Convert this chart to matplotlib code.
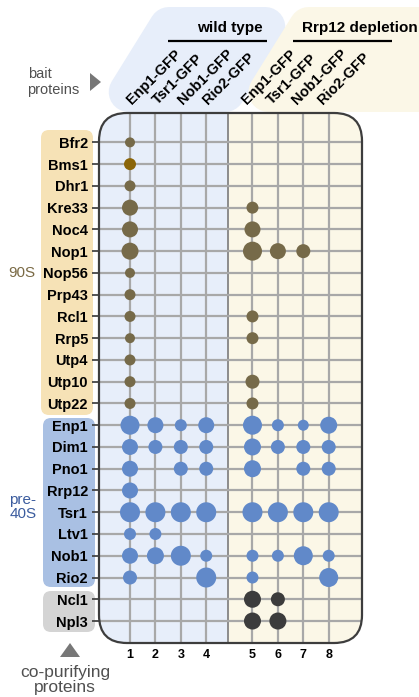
import matplotlib.pyplot as plt
import numpy as np
from matplotlib.patches import FancyBboxPatch, Polygon, Rectangle

plt.rcParams['font.family'] = ['Liberation Sans', 'DejaVu Sans']

# co-purifying proteins (rows) and their complex
proteins = ['Bfr2', 'Bms1', 'Dhr1', 'Kre33', 'Noc4', 'Nop1', 'Nop56', 'Prp43',
            'Rcl1', 'Rrp5', 'Utp4', 'Utp10', 'Utp22',
            'Enp1', 'Dim1', 'Pno1', 'Rrp12', 'Tsr1', 'Ltv1', 'Nob1', 'Rio2',
            'Ncl1', 'Npl3']
groups = ['90S'] * 13 + ['pre-40S'] * 8 + ['other'] * 2
highlight = 'Bms1'

# bait proteins (columns), two conditions
baits = ['Enp1-GFP', 'Tsr1-GFP', 'Nob1-GFP', 'Rio2-GFP']
conditions = ['wild type', 'Rrp12 depletion']
lanes = [1, 2, 3, 4, 5, 6, 7, 8]

# dot diameter (px) per protein and lane, 0 = not detected
dot_size = np.array([
    [10, 0, 0, 0, 0, 0, 0, 0],
    [12, 0, 0, 0, 0, 0, 0, 0],
    [11, 0, 0, 0, 0, 0, 0, 0],
    [16, 0, 0, 0, 12, 0, 0, 0],
    [16, 0, 0, 0, 16, 0, 0, 0],
    [17, 0, 0, 0, 19, 16, 14, 0],
    [10, 0, 0, 0, 0, 0, 0, 0],
    [11, 0, 0, 0, 0, 0, 0, 0],
    [11, 0, 0, 0, 12, 0, 0, 0],
    [10, 0, 0, 0, 12, 0, 0, 0],
    [11, 0, 0, 0, 0, 0, 0, 0],
    [11, 0, 0, 0, 14, 0, 0, 0],
    [11, 0, 0, 0, 12, 0, 0, 0],
    [19, 16, 12, 16, 19, 12, 11, 17],
    [16, 14, 14, 14, 17, 14, 14, 14],
    [16, 0, 14, 14, 17, 0, 14, 14],
    [16, 0, 0, 0, 0, 0, 0, 0],
    [20, 20, 20, 20, 20, 20, 20, 20],
    [12, 12, 0, 0, 0, 0, 0, 0],
    [16, 17, 20, 12, 12, 12, 19, 12],
    [14, 0, 0, 20, 12, 0, 0, 19],
    [0, 0, 0, 0, 17, 14, 0, 0],
    [0, 0, 0, 0, 17, 17, 0, 0],
])

group_color = {'90S': '#766a49', 'pre-40S': '#6189c9', 'other': '#3c3c3c'}
highlight_color = '#8b6508'
blue_bg = '#e7eefa'
yellow_bg = '#fbf7e7'

W, H = 419, 697
fig = plt.figure(figsize=(W / 100, H / 100), dpi=100)

# overlay in pixel units for the annotations around the grid
over = fig.add_axes([0, 0, 1, 1])
over.set_xlim(0, W)
over.set_ylim(H, 0)
over.axis('off')
over.set_zorder(0)

ax = fig.add_axes([99 / W, 1 - 643 / H, 263 / W, 530 / H])
ax.set_zorder(1)
ax.patch.set_visible(False)

col_x = [1, 2, 3, 4, 5.82, 6.82, 7.82, 8.82]
divider = 4.86
xl, xr = -0.22, 10.13
yt, yb = -1.35, 23.01
ax.set_xlim(xl, xr)
ax.set_ylim(yb, yt)

box = FancyBboxPatch((0, 0), 1, 1,
                     boxstyle='round,pad=0,rounding_size=%f' % (28 / 263),
                     mutation_aspect=263 / 530, transform=ax.transAxes,
                     facecolor='none', edgecolor='#3d3d3d', lw=1.6,
                     zorder=5, clip_on=False)
ax.add_patch(box)

for x0, x1, c in [(xl, divider, blue_bg), (divider, xr, yellow_bg)]:
    r = Rectangle((x0, yt), x1 - x0, yb - yt, facecolor=c, edgecolor='none', zorder=0)
    ax.add_patch(r)
    r.set_clip_path(box)

for x in col_x:
    ln = ax.axvline(x, color='#a8a8a8', lw=1.6, zorder=1)
    ln.set_clip_path(box)
ln = ax.axvline(divider, color='#8c8c8c', lw=1.4, zorder=1)
ln.set_clip_path(box)
for i in range(len(proteins)):
    ln = ax.axhline(i, color='#a8a8a8', lw=1.6, zorder=1)
    ln.set_clip_path(box)

# dots
rows, cols = np.nonzero(dot_size)
colors = [highlight_color if proteins[r] == highlight else group_color[groups[r]] for r in rows]
ax.scatter(np.array(col_x)[cols], rows, s=(dot_size[rows, cols] * 0.72) ** 2,
           c=colors, linewidths=0, zorder=3)

ax.set_yticks(range(len(proteins)))
ax.set_yticklabels(proteins, fontweight='bold', fontsize=10.5)
ax.tick_params(axis='y', length=5, width=1.3, color='#444444', pad=3)
ax.set_xticks(col_x)
ax.set_xticklabels(lanes, fontweight='bold', fontsize=9)
ax.tick_params(axis='x', length=0, pad=4)
for s in ax.spines.values():
    s.set_visible(False)

# group boxes on the left
for y0, y1, x0, x1, c in [(130, 415, 41, 93, '#f6e2b6'),
                          (418, 587, 43, 95, '#a9c0e3'),
                          (591, 632, 43, 95, '#d4d4d4')]:
    over.add_patch(FancyBboxPatch((x0, y0), x1 - x0, y1 - y0,
                                  boxstyle='round,pad=0,rounding_size=8',
                                  facecolor=c, edgecolor='none'))
over.text(22, 273, '90S', color='#7a6a45', fontsize=11, ha='center', va='center')
over.text(23, 507, 'pre-\n40S', color='#3b5c9e', fontsize=11, ha='center', va='center',
          linespacing=0.95)

# header bands (rounded through thick round-joined edges)
over.add_patch(Polygon([(128.7, 92), (169, 27), (265.3, 27), (225, 92)],
                       closed=True, facecolor=blue_bg, edgecolor=blue_bg,
                       lw=28.8, joinstyle='round'))
over.add_patch(Polygon([(268.5, 92), (308.8, 27), (470, 27), (430, 92)],
                       closed=True, facecolor=yellow_bg, edgecolor=yellow_bg,
                       lw=28.8, joinstyle='round'))

for cond, cx, (lx0, lx1) in zip(conditions, [230, 360], [(168, 267), (293, 392)]):
    over.text(cx, 32, cond, fontsize=11, fontweight='bold', ha='center', va='baseline')
    over.plot([lx0, lx1], [41, 41], color='black', lw=1.6, solid_capstyle='butt')

col_px = [130 + (x - 1) * 25.4 for x in col_x]
for j, px in enumerate(col_px):
    off = -2 if j < 4 else 6
    over.text(px - off, 105, baits[j % 4], fontsize=10.5, fontweight='bold',
              rotation=45, rotation_mode='anchor', ha='left', va='baseline')

# side notes
over.text(28, 78, 'bait', fontsize=10.5, color='#505050', ha='left', va='baseline')
over.text(27, 94, 'proteins', fontsize=10.5, color='#505050', ha='left', va='baseline')
over.add_patch(Polygon([(90, 73), (90, 91), (101, 82)], closed=True,
                       facecolor='#777777', edgecolor='none'))

over.add_patch(Polygon([(60, 657), (80, 657), (70, 643)], closed=True,
                       facecolor='#777777', edgecolor='none'))
over.text(65, 677, 'co-purifying', fontsize=12.5, color='#505050', ha='center', va='baseline')
over.text(65, 692, 'proteins', fontsize=12.5, color='#505050', ha='center', va='baseline')

fig.savefig('out.png', dpi=100)
